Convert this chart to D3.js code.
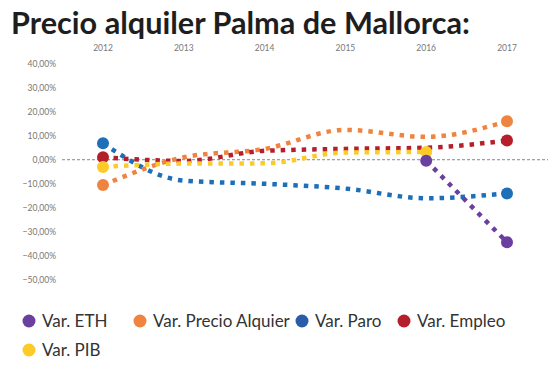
<!DOCTYPE html>
<html>
<head>
<meta charset="utf-8">
<script src="https://cdn.jsdelivr.net/npm/d3@7"></script>
<style>
  body { margin: 0; background: #fff; }
  svg { display: block; }
</style>
</head>
<body>
<div id="chart"></div>
<script>
const years = [2012, 2013, 2014, 2015, 2016, 2017];
const yTicks = [40, 30, 20, 10, 0, -10, -20, -30, -40, -50];

// variation in %, null = no data
const eth = [null, null, null, null, -0.4, -34.3];
const precioAlquiler = [-10.5, 1, 4.5, 12.4, 9.5, 16];
const paro = [6.8, -8.7, -10, -12, -16, -14];
const empleo = [1, -0.5, 3.7, 4.5, 5, 8];
const pib = [-3, -1.6, -1.5, 3, 3.2, null];

const series = [
  { name: "Var. ETH", values: eth, color: "#6b3fa0" },
  { name: "Var. Precio Alquier", values: precioAlquiler, color: "#ef8440" },
  { name: "Var. Paro", values: paro, color: "#1e6fb9" },
  { name: "Var. Empleo", values: empleo, color: "#b51f2b" },
  { name: "Var. PIB", values: pib, color: "#fccb27" }
];
// draw order (last on top)
const drawOrder = [2, 1, 3, 4, 0];

const width = 560, height = 372;

const svg = d3.select("#chart").append("svg")
  .attr("width", width)
  .attr("height", height)
  .style("font-family", "Lato, 'Open Sans', sans-serif");

svg.append("text")
  .attr("x", 11)
  .attr("y", 34)
  .attr("font-size", 29.7)
  .attr("font-weight", 700)
  .attr("fill", "#1e1e1e")
  .attr("textLength", 459)
  .attr("lengthAdjust", "spacingAndGlyphs")
  .text("Precio alquiler Palma de Mallorca:");

const x = d3.scalePoint().domain(years).range([103, 507]);
const y = d3.scaleLinear().domain([-50, 40]).range([280, 63.5]);

// top year labels
svg.append("g")
  .selectAll("text")
  .data(years)
  .join("text")
  .attr("x", d => x(d))
  .attr("y", 51)
  .attr("text-anchor", "middle")
  .attr("font-size", 8.5)
  .attr("fill", "#777")
  .text(d => d);

// y labels
svg.append("g")
  .selectAll("text")
  .data(yTicks)
  .join("text")
  .attr("x", 56)
  .attr("y", d => y(d) + 3)
  .attr("text-anchor", "end")
  .attr("font-size", 8.5)
  .attr("fill", "#777")
  .text(d => d3.format(".2f")(d).replace(".", ",") + "%");

// zero line
svg.append("line")
  .attr("x1", 62)
  .attr("x2", 548)
  .attr("y1", y(0))
  .attr("y2", y(0))
  .attr("stroke", "#555")
  .attr("stroke-width", 0.7)
  .attr("stroke-dasharray", "3,2");

const line = d3.line()
  .defined(d => d.v != null)
  .x(d => x(d.year))
  .y(d => y(d.v))
  .curve(d3.curveMonotoneX);

const g = svg.append("g");
drawOrder.forEach(i => {
  const s = series[i];
  const pts = years.map((yr, j) => ({ year: yr, v: s.values[j] }));
  g.append("path")
    .datum(pts)
    .attr("fill", "none")
    .attr("stroke", s.color)
    .attr("stroke-width", 4.5)
    .attr("stroke-dasharray", "4.5,6")
    .attr("d", line);
  const valid = pts.filter(d => d.v != null);
  g.selectAll(null)
    .data([valid[0], valid[valid.length - 1]])
    .join("circle")
    .attr("cx", d => x(d.year))
    .attr("cy", d => y(d.v))
    .attr("r", 6)
    .attr("fill", s.color);
});

// legend
const legendPos = [
  { cx: 29, cy: 321 },
  { cx: 140, cy: 321 },
  { cx: 302, cy: 321 },
  { cx: 404, cy: 321 },
  { cx: 29, cy: 350 }
];
const legend = svg.append("g")
  .selectAll("g")
  .data(series)
  .join("g")
  .attr("transform", (d, i) => `translate(${legendPos[i].cx},${legendPos[i].cy})`);
legend.append("circle")
  .attr("r", 6.5)
  .attr("fill", (d, i) => i === 2 ? "#2a5caa" : d.color);
legend.append("text")
  .attr("x", 13)
  .attr("y", 6)
  .attr("font-size", 17)
  .attr("fill", "#333")
  .text(d => d.name);
</script>
</body>
</html>
